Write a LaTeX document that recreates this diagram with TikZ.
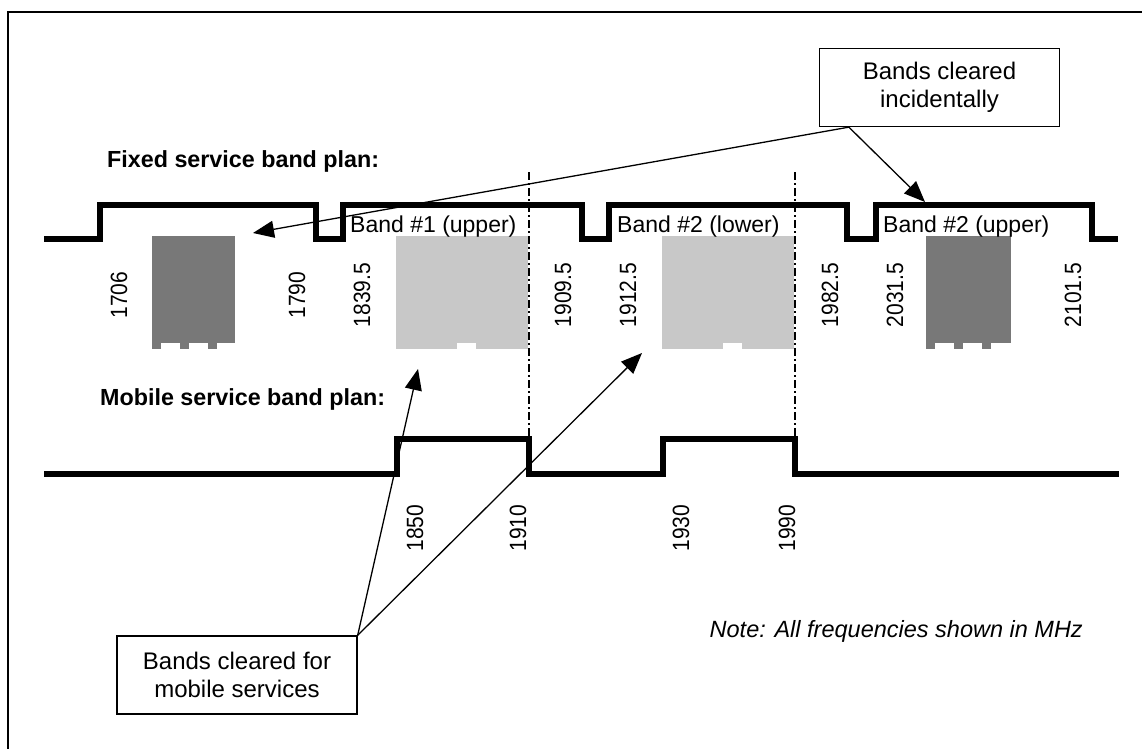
\documentclass[tikz,border=0pt]{standalone}
\usepackage{fontspec}
\setmainfont{Liberation Sans}
\usetikzlibrary{arrows.meta}

\definecolor{usedband}{RGB}{120,120,120}
\definecolor{clearband}{RGB}{200,200,200}

\begin{document}
\begin{tikzpicture}[x=1pt, y=-1pt,
    bandline/.style={line width=6pt},
    edgeline/.style={line width=2.4pt, dash pattern=on 8pt off 3pt on 2pt off 3pt},
    freq/.style={xscale=1.12, rotate=90, font=\fontsize{21}{25}\selectfont, inner sep=0pt},
    plantitle/.style={anchor=base west, font=\fontsize{23.3}{27}\selectfont\bfseries, inner sep=0pt},
    bandname/.style={anchor=base west, font=\fontsize{23}{27}\selectfont, inner sep=0pt},
    callout/.style={draw, line width=1.3pt, align=center, font=\fontsize{24}{28}\selectfont,
      minimum width=240pt, minimum height=78pt, inner sep=0pt},
    pointer/.style={line width=1.3pt, -{Triangle[length=21pt, width=17pt]}}]

  \useasboundingbox (0,0) rectangle (1142,749);

  % frame
  \draw[line width=1.5pt] (1142,12) -- (8,12) -- (8,749);

  % plan titles
  \node[plantitle] (fixedtitle) at (107,167) {Fixed service band plan:};
  \node[plantitle] (mobiletitle) at (100,405) {Mobile service band plan:};

  % bands used by fixed services (dark)
  \foreach \xl/\xr in {152/235, 926/1011} {
    \fill[usedband] (\xl,236) rectangle (\xr,343);
    \foreach \dx in {0,28,56}
      \fill[usedband] (\xl+\dx,343) rectangle (\xl+\dx+9,349);
  }

  % bands cleared for mobile services (light)
  \foreach \xl/\xr/\nl in {396/528/457, 662/794/723} {
    \fill[clearband] (\xl,236) rectangle (\xr,349);
    \fill[white] (\nl,343) rectangle (\nl+19,349.5);
  }

  % band edges shared by both plans
  \draw[edgeline] (529,172) -- (529,439);
  \draw[edgeline] (795,172) -- (795,439);

  % fixed service band plan
  \draw[bandline] (44,239) -- (100,239) -- (100,205) -- (316,205) -- (316,239)
    -- (343,239) -- (343,205) -- (582,205) -- (582,239) -- (609,239) -- (609,205)
    -- (847,205) -- (847,239) -- (876,239) -- (876,205) -- (1092,205) -- (1092,239)
    -- (1118,239);
  \node[bandname] (band1u) at (350,232) {Band \#1 (upper)};
  \node[bandname] (band2l) at (617,232) {Band \#2 (lower)};
  \node[bandname] (band2u) at (883,232) {Band \#2 (upper)};

  % mobile service band plan
  \draw[bandline] (44,474) -- (397,474) -- (397,439) -- (529,439) -- (529,474)
    -- (663,474) -- (663,439) -- (795,439) -- (795,474) -- (1119,474);

  % frequencies
  \foreach \xpos/\lab [count=\i] in {119/1706, 297/1790, 362/1839.5, 563/1909.5,
      628/1912.5, 830/1982.5, 895/2031.5, 1073/2101.5}
    \node[freq] (fu\i) at (\xpos,295) {\lab};
  \foreach \xpos/\lab [count=\i] in {415/1850, 518/1910, 681/1930, 787/1990}
    \node[freq] (fl\i) at (\xpos,528) {\lab};

  % note
  \node[anchor=base east, inner sep=0pt, font=\fontsize{23.5}{27}\selectfont\itshape]
    (note) at (1083,637) {Note: All frequencies shown in MHz};

  % callouts
  \node[callout] (incid) at (939.5,87.5) {Bands cleared\\incidentally};
  \node[callout] (mobbox) at (237,675) {Bands cleared for\\mobile services};

  \coordinate (tipA) at (253,233);
  \coordinate (tipB) at (925,202);
  \coordinate (tipC) at (418,369);
  \coordinate (tipD) at (642,353);

  \draw[pointer] ([xshift=30pt]incid.south west) -- (tipA);
  \draw[pointer] ([xshift=30pt]incid.south west) -- (tipB);
  \draw[pointer] (mobbox.north east) -- (tipC);
  \draw[pointer] (mobbox.north east) -- (tipD);

\end{tikzpicture}
\end{document}
